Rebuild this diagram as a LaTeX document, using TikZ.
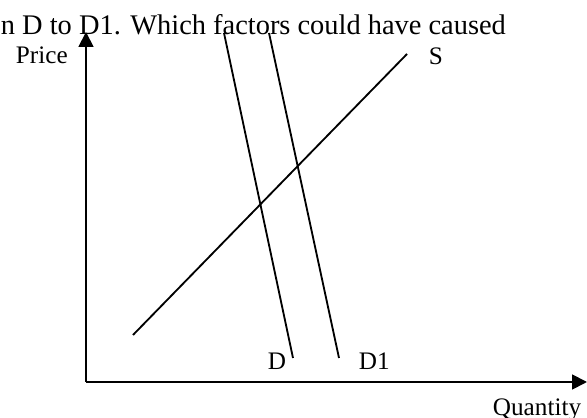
\documentclass[tikz,border=0pt]{standalone}
\usepackage{fontspec}
\setmainfont{Liberation Serif}
\usetikzlibrary{arrows.meta, positioning}

\begin{document}
\begin{tikzpicture}[x=0.4364pt, y=-0.4364pt, >={Triangle[length=6.5pt, width=6.5pt]}, line width=0.8pt]
\tikzset{lbl/.style={inner sep=0, anchor=base west, font=\fontsize{11}{13}\selectfont}, question/.style={inner sep=0, anchor=base west, font=\fontsize{12.4}{14}\selectfont}}
\useasboundingbox (0,0) rectangle (587,418);
\node[question] (Q) at (0,35) {n D to D1. Which factors could have caused};
\coordinate (O) at (86,382); \coordinate (Ytip) at (86,32); \coordinate (Xtip) at (587,382);
\draw[->] (O) -- (Ytip); \draw[->] (O) -- (Xtip);
\node[lbl] (P) at (15,64) {Price};
\node[lbl] (Qty) at (492,416) {Quantity};
% supply and the two demand lines
\coordinate (S0) at (133,335); \coordinate (S1) at (407,54);
\coordinate (D0) at (224,33); \coordinate (D1) at (293,358);
\coordinate (E0) at (269,33); \coordinate (E1) at (339,358);
\draw (S0) -- (S1); \draw (D0) -- (D1); \draw (E0) -- (E1);
\node[lbl] (SL) at (428,65) {S};
\node[lbl] (DL) at (267,370) {D};
\node[lbl] (EL) at (358,370) {D1};
\end{tikzpicture}
\end{document}
